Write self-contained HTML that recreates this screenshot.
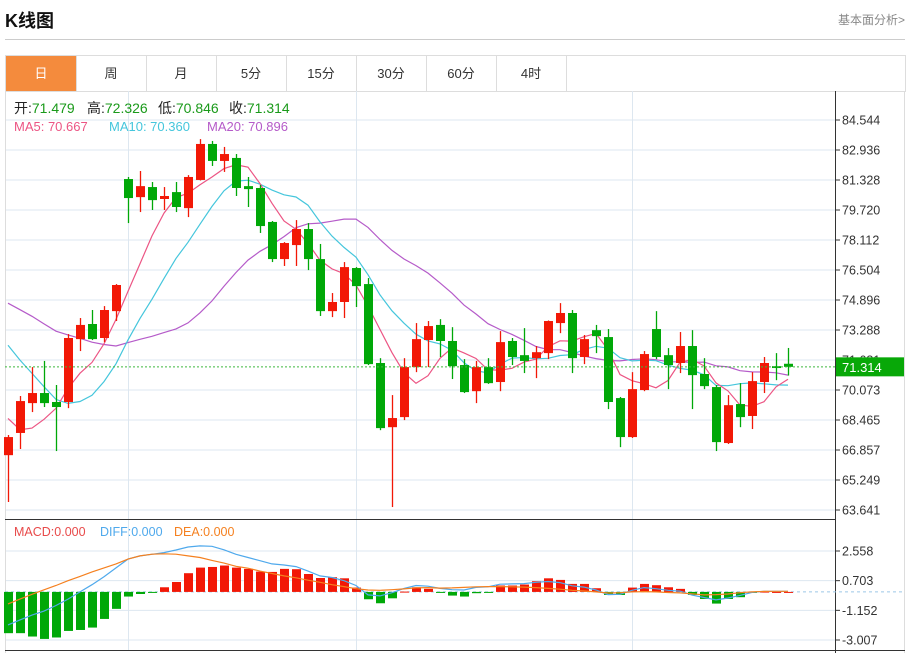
<!DOCTYPE html>
<html><head><meta charset="utf-8"><style>
body{margin:0;background:#fff;width:913px;height:653px;overflow:hidden;font-family:"Liberation Sans","Noto Sans CJK SC",sans-serif;}
#title{position:absolute;left:5px;top:7px;font-size:18px;font-weight:bold;color:#111;}
#more{position:absolute;right:8px;top:11px;font-size:12px;color:#888;}
#hr{position:absolute;left:5px;top:39px;width:900px;height:1px;background:#ccc;}
#tabs{position:absolute;left:5px;top:55px;width:899px;height:35px;border:1px solid #ddd;border-bottom:1px solid #ddd;}
.tab{position:absolute;top:0;height:35px;width:70px;border-right:1px solid #ddd;text-align:center;line-height:35px;font-size:13px;color:#333;}
.tab.on{background:#f48b3d;color:#fff;}
svg{position:absolute;left:0;top:0;}
</style></head><body>
<div id="title">K线图</div>
<div id="more">基本面分析&gt;</div>
<div id="hr"></div>
<div id="tabs">
<div class="tab on" style="left:0">日</div>
<div class="tab" style="left:70px">周</div>
<div class="tab" style="left:140px">月</div>
<div class="tab" style="left:210px">5分</div>
<div class="tab" style="left:280px">15分</div>
<div class="tab" style="left:350px">30分</div>
<div class="tab" style="left:420px">60分</div>
<div class="tab" style="left:490px">4时</div>
</div>
<svg id="chart" width="913" height="653"></svg>
<script>
const opens=[66.58,67.77,69.37,69.91,69.43,69.43,72.80,73.61,72.86,74.30,81.38,80.41,80.95,80.31,80.68,79.82,81.33,83.26,82.35,82.51,81.00,80.90,79.08,77.09,77.84,78.70,77.09,74.30,74.79,76.61,75.75,71.52,68.08,68.62,71.30,72.75,73.56,72.70,71.41,70.01,71.30,70.50,72.70,71.94,71.78,72.05,73.66,74.20,71.84,73.28,72.91,69.64,67.55,70.07,73.34,71.94,71.52,72.43,70.93,70.23,67.23,69.32,68.68,70.50,71.35,71.479];
const closes=[67.55,69.48,69.91,69.37,69.16,72.86,73.56,72.80,74.36,75.70,80.36,81.00,80.25,80.47,79.88,81.49,83.26,82.35,82.72,80.90,80.84,78.86,77.09,77.95,78.70,77.09,74.30,74.79,76.66,75.64,71.46,68.03,68.57,71.30,72.80,73.50,72.70,71.35,69.96,71.30,70.44,72.64,71.84,71.63,72.10,73.77,74.20,71.78,72.80,72.96,69.43,67.55,70.12,72.00,71.84,71.41,72.43,70.87,70.28,67.28,69.26,68.62,70.55,71.52,71.25,71.314];
const highs=[67.66,69.75,71.30,71.63,70.34,73.07,73.93,74.36,74.57,75.75,81.49,81.81,81.22,80.95,81.22,81.59,83.52,83.42,83.10,82.72,81.49,81.06,79.13,78.00,79.18,79.02,77.90,75.27,76.93,76.66,76.07,71.78,69.80,71.78,73.66,73.77,73.87,73.44,71.73,71.63,71.78,73.23,72.86,73.39,72.43,73.80,74.73,74.36,73.02,73.56,73.34,69.70,71.03,72.16,74.30,72.32,73.18,73.28,71.78,70.34,69.80,70.44,71.03,71.84,72.05,72.326];
const lows=[64.07,66.91,68.89,69.16,66.80,69.10,72.16,72.75,72.64,73.77,79.02,79.61,79.72,79.72,79.61,79.34,81.30,82.08,81.76,80.47,79.88,78.49,76.93,76.72,76.72,76.50,74.04,73.98,73.93,74.52,71.41,67.92,63.80,68.46,71.03,71.30,71.84,70.66,69.91,69.37,70.40,70.01,71.41,70.98,70.71,71.73,73.12,70.98,71.46,72.05,69.05,67.01,67.50,70.01,71.73,70.12,70.98,69.05,70.12,66.80,67.18,68.08,67.98,69.91,70.60,70.846];
const priorCloses=[76.5,77,77.5,77,76.8,77.2,77,76.8,77.3,76.7,77.5,77.0,76.5,76.0,75.0,72.5,69.5,67.0,66.2];
const macdBars=[-2.58,-2.58,-2.79,-2.94,-2.85,-2.44,-2.38,-2.23,-1.69,-1.06,-0.29,-0.13,-0.02,0.29,0.62,1.17,1.52,1.56,1.65,1.52,1.44,1.27,1.25,1.44,1.42,1.12,0.87,0.92,0.85,0.27,-0.46,-0.71,-0.40,0.02,0.29,0.19,-0.06,-0.23,-0.29,-0.08,-0.02,0.40,0.40,0.46,0.67,0.85,0.75,0.50,0.50,0.23,-0.19,-0.19,0.27,0.50,0.42,0.29,0.19,-0.19,-0.44,-0.73,-0.44,-0.33,-0.05,0.02,0,0];
const diffVals=[-2.06,-1.75,-1.45,-1.2,-0.85,-0.45,0,0.45,0.95,1.5,2.05,2.25,2.35,2.46,2.62,2.81,2.88,2.85,2.63,2.35,2.15,1.95,1.75,1.68,1.58,1.3,1.0,0.9,0.7,0.4,-0.19,-0.25,-0.05,0.22,0.4,0.36,0.22,0.14,0.12,0.28,0.32,0.48,0.50,0.52,0.6,0.65,0.58,0.38,0.3,0.12,-0.17,-0.15,0.1,0.27,0.2,0.1,0.05,-0.2,-0.35,-0.5,-0.38,-0.22,-0.03,0.04,0.04,0.04];
const deaVals=[-0.75,-0.45,-0.15,0.13,0.40,0.70,0.97,1.25,1.5,1.75,2.05,2.25,2.36,2.38,2.36,2.25,2.15,1.97,1.8,1.6,1.48,1.3,1.15,1.0,0.88,0.73,0.6,0.45,0.33,0.2,0.12,0.1,0.14,0.19,0.26,0.27,0.24,0.25,0.28,0.32,0.33,0.33,0.32,0.30,0.27,0.22,0.17,0.1,0.06,0.0,-0.07,-0.05,0.0,0.02,0.0,-0.04,-0.06,-0.12,-0.19,-0.17,-0.13,-0.05,0.0,0.03,0.04,0.04];
const priceTicks=[84.544,82.936,81.328,79.720,78.112,76.504,74.896,73.288,71.681,70.073,68.465,66.857,65.249,63.641];
const macdTicks=[2.558,0.703,-1.152,-3.007];
const lastPrice=71.314;

const NS="http://www.w3.org/2000/svg";
const svg=document.getElementById('chart');
function el(t,a,p){const e=document.createElementNS(NS,t);for(const k in a)e.setAttribute(k,a[k]);(p||svg).appendChild(e);return e;}
const xOf=i=>8+12*i;
const yP=v=>120+(84.544-v)*(390/(84.544-63.641));
const yM=v=>551+(2.558-v)*(89/(2.558+3.007));
const L=5,R=835;
priceTicks.forEach(t=>{const g=el('line',{x1:L,x2:R,y1:yP(t),y2:yP(t),stroke:'#dde7f0','stroke-width':1});
});
macdTicks.forEach(t=>{const g=el('line',{x1:L,x2:R,y1:yM(t),y2:yM(t),stroke:'#dde7f0','stroke-width':1});
});
[128.5,356.5,632.5].forEach(x=>{const g=el('line',{x1:x,x2:x,y1:91,y2:650,stroke:'#dde7f0'});
});
el('line',{x1:L+0.5,x2:L+0.5,y1:91,y2:653,stroke:'#ddd'});
el('line',{x1:904.5,x2:904.5,y1:91,y2:653,stroke:'#ddd'});
el('line',{x1:L,x2:R,y1:519.5,y2:519.5,stroke:'#333'});
el('line',{x1:L,x2:905,y1:650.5,y2:650.5,stroke:'#333'});
el('line',{x1:835.5,x2:835.5,y1:91,y2:653,stroke:'#333'});
priceTicks.forEach(t=>{el('line',{x1:835,x2:840,y1:yP(t),y2:yP(t),stroke:'#333'});
const tx=el('text',{x:842,y:yP(t)+4.5,'font-size':12.5,fill:'#333'});tx.textContent=t.toFixed(3);
});
macdTicks.forEach(t=>{el('line',{x1:835,x2:840,y1:yM(t),y2:yM(t),stroke:'#333'});
const tx=el('text',{x:842,y:yM(t)+4.5,'font-size':12.5,fill:'#333'});tx.textContent=t.toFixed(3);
});
const all=priorCloses.concat(closes);
function ma(n){return closes.map((c,i)=>{const j=i+priorCloses.length;let s=0;for(let k=j-n+1;k<=j;k++)s+=all[k];return s/n;});}
[[20,'#b55bc9','ma20-line'],[10,'#45c6dc','ma10-line'],[5,'#ec5584','ma5-line']].forEach(([n,c,nm])=>{
const m=ma(n);const p=el('polyline',{points:m.map((v,i)=>xOf(i)+','+yP(v).toFixed(1)).join(' '),fill:'none',stroke:c,'stroke-width':1.2});
});
closes.forEach((c,i)=>{const o=opens[i],up=c>=o,col=up?'#f21806':'#00a808';const x=xOf(i);
const g=el('g',{});
el('line',{x1:x+0.5,x2:x+0.5,y1:yP(highs[i]),y2:yP(lows[i]),stroke:col,'stroke-width':1.3},g);
const t=yP(Math.max(o,c)),b=yP(Math.min(o,c));
el('rect',{x:x-4,y:t,width:9,height:Math.max(1.5,b-t),fill:col},g);});
el('line',{x1:L,x2:R,y1:yP(lastPrice),y2:yP(lastPrice),stroke:'#3db83d','stroke-dasharray':'2,2'});
const lb=el('rect',{x:836,y:yP(lastPrice)-9.5,width:68,height:19,fill:'#08a808'});

const lt=el('text',{x:842,y:yP(lastPrice)+5,'font-size':13,fill:'#fff'});lt.textContent=lastPrice.toFixed(3);
const z=yM(0);
el('line',{x1:L,x2:R+70,y1:z,y2:z,stroke:'#9cc8e8','stroke-dasharray':'3,3'});
macdBars.forEach((v,i)=>{const y=yM(v);const r=el('rect',{x:xOf(i)-4,y:Math.min(y,z),width:9,height:Math.max(1,Math.abs(y-z)),fill:v>=0?'#f21806':'#00a808'});
});
[[diffVals,'#4fa9ec','diff-line'],[deaVals,'#f5801f','dea-line']].forEach(([a,c,nm])=>{
const p=el('polyline',{points:a.map((v,i)=>xOf(i)+','+yM(v).toFixed(1)).join(' '),fill:'none',stroke:c,'stroke-width':1.2});
});
</script>
<svg width="913" height="653" style="pointer-events:none">
<g font-size="14">
<text x="14" y="113" fill="#222">开:<tspan fill="#1a9a1a">71.479</tspan></text>
<text x="87" y="113" fill="#222">高:<tspan fill="#1a9a1a">72.326</tspan></text>
<text x="158" y="113" fill="#222">低:<tspan fill="#1a9a1a">70.846</tspan></text>
<text x="229" y="113" fill="#222">收:<tspan fill="#1a9a1a">71.314</tspan></text>
</g>
<g font-size="13">
<text x="14" y="131" fill="#ec5584">MA5: 70.667</text>
<text x="109" y="131" fill="#45c6dc">MA10: 70.360</text>
<text x="207" y="131" fill="#b55bc9">MA20: 70.896</text>
</g>
<g font-size="12.5">
<text x="14" y="536" fill="#e84a4a">MACD:0.000</text>
<text x="100" y="536" fill="#4fa9ec">DIFF:0.000</text>
<text x="174" y="536" fill="#f5801f">DEA:0.000</text>
</g>
</svg>
</body></html>
